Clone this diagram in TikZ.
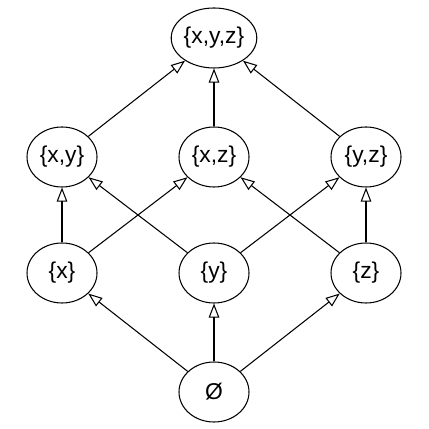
\documentclass[tikz,border=0pt]{standalone}
\usepackage{fontspec}
\setmainfont{Liberation Sans}
\usetikzlibrary{shapes.geometric,arrows.meta}

\tikzset{
  set/.style={draw,ellipse,line width=0.6pt,minimum width=1.4cm,minimum height=1.2cm,inner sep=0pt,font=\fontsize{13}{15}\selectfont},
  up/.style={line width=0.6pt,-{Triangle[open,length=8pt,width=6pt]}}
}

\begin{document}
\begin{tikzpicture}
\useasboundingbox (0,0) rectangle (8.58,8.58);

\node[set] (xyz) at (4.28,7.82) {\{x,y,z\}};

\node[set] (xy) at (1.24,5.44) {\{x,y\}};
\node[set] (xz) at (4.28,5.44) {\{x,z\}};
\node[set] (yz) at (7.32,5.44) {\{y,z\}};

\node[set] (x) at (1.24,3.12) {\{x\}};
\node[set] (y) at (4.28,3.12) {\{y\}};
\node[set] (z) at (7.32,3.12) {\{z\}};

\node[set] (e) at (4.28,0.74) {Ø};

\draw[up] (e) -- (x);
\draw[up] (e) -- (y);
\draw[up] (e) -- (z);

\draw[up] (x) -- (xy);
\draw[up] (x) -- (xz);
\draw[up] (y) -- (xy);
\draw[up] (y) -- (yz);
\draw[up] (z) -- (xz);
\draw[up] (z) -- (yz);

\draw[up] (xy) -- (xyz);
\draw[up] (xz) -- (xyz);
\draw[up] (yz) -- (xyz);

\end{tikzpicture}
\end{document}
